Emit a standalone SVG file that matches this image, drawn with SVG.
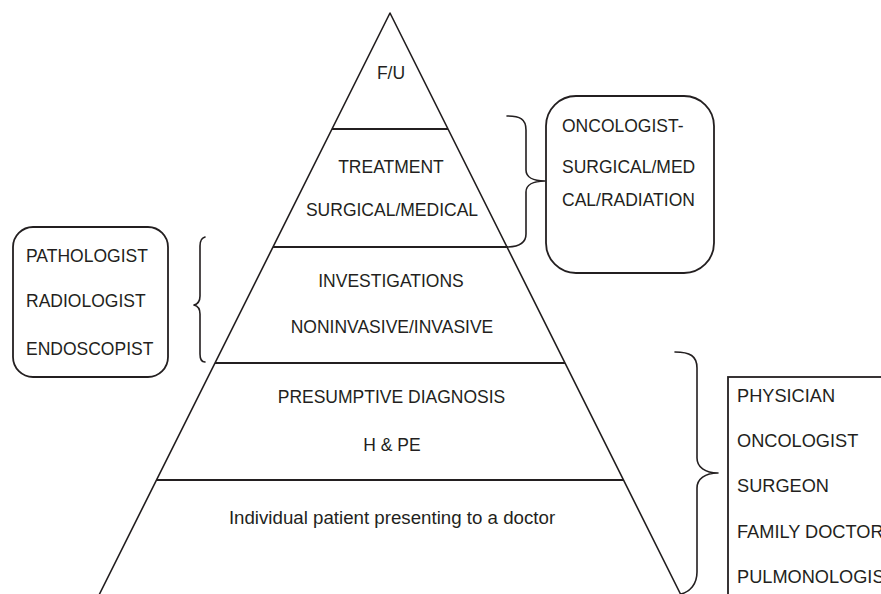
<svg xmlns="http://www.w3.org/2000/svg" width="881" height="594" viewBox="0 0 881 594">
  <style>
    .ln { fill: none; stroke: #231f20; stroke-width: 1.6; stroke-linecap: round; stroke-linejoin: round; }
    .hl { fill: none; stroke: #231f20; stroke-width: 2; }
    .bx { fill: #ffffff; stroke: #231f20; stroke-width: 1.8; }
    .br { fill: none; stroke: #231f20; stroke-width: 1.6; stroke-linecap: round; stroke-linejoin: round; }
    text { font-family: "Liberation Sans", Arial, Helvetica, sans-serif; font-size: 17.5px; fill: #231f20; }
    .c { text-anchor: middle; }
    .big { font-size: 18.2px; }
  </style>
  <rect width="881" height="594" fill="#ffffff"/>

  <g id="pyramid">
    <path class="ln" d="M99.5,594 L390,13 L680.5,594"/>
    <line class="hl" x1="332" y1="129" x2="448" y2="129"/>
    <line class="hl" x1="273" y1="247" x2="508" y2="247"/>
    <line class="hl" x1="215" y1="363" x2="565" y2="363"/>
    <line class="hl" x1="156.5" y1="480" x2="623.5" y2="480"/>
  </g>

  <g id="level-fu">
    <text class="c" x="391" y="79">F/U</text>
  </g>
  <g id="level-treatment">
    <text class="c" x="391" y="173">TREATMENT</text>
    <text class="c" x="392" y="216">SURGICAL/MEDICAL</text>
  </g>
  <g id="level-investigations">
    <text class="c" x="391" y="287">INVESTIGATIONS</text>
    <text class="c" x="392" y="333">NONINVASIVE/INVASIVE</text>
  </g>
  <g id="level-presumptive">
    <text class="c" x="391.5" y="403">PRESUMPTIVE DIAGNOSIS</text>
    <text class="c" x="392" y="451">H &amp; PE</text>
  </g>
  <g id="level-patient">
    <text class="c" x="392" y="524" style="font-size:18.7px">Individual patient presenting to a doctor</text>
  </g>

  <g id="connectors">
    <path class="br" d="M507,116 C520,116 526,119 526,130 L526,170 C526,177 533,181 545,181 C533,181 526,185 526,192 L526,234 C526,243 519,247 506,247"/>
    <path class="br" d="M205,237 C201,238 200,241 200,246 L200,296 C200,301 198,304 194,305 C198,306 200,309 200,314 L200,354 C200,359 201,362 205,362"/>
    <path class="br" d="M675,352 C690,352 697,356 697,368 L697,458 C697,467 705,473 718,473 C705,473 697,479 697,488 L697,572 C697,584 690,592 681,594"/>
  </g>

  <g id="box-oncologist">
    <rect class="bx" x="546" y="96" width="168" height="177" rx="30" ry="30"/>
    <text x="562" y="132">ONCOLOGIST-</text>
    <text x="562" y="173">SURGICAL/MED</text>
    <text x="562" y="206">CAL/RADIATION</text>
  </g>

  <g id="box-specialists">
    <rect class="bx" x="13" y="227" width="155" height="150" rx="20" ry="20"/>
    <text x="26" y="262">PATHOLOGIST</text>
    <text x="26" y="307">RADIOLOGIST</text>
    <text x="26" y="355">ENDOSCOPIST</text>
  </g>

  <g id="box-doctors">
    <rect class="bx" x="728" y="377" width="200" height="260"/>
    <text class="big" x="737" y="402">PHYSICIAN</text>
    <text class="big" x="737" y="447">ONCOLOGIST</text>
    <text class="big" x="737" y="492">SURGEON</text>
    <text class="big" x="737" y="538">FAMILY DOCTOR</text>
    <text class="big" x="737" y="583">PULMONOLOGIST</text>
  </g>
</svg>
